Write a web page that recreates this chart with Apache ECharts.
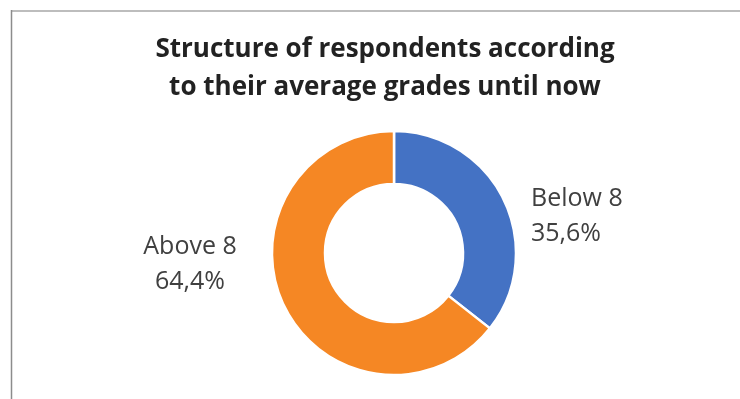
<!DOCTYPE html>
<html>
<head>
<meta charset="utf-8">
<script src="https://cdn.jsdelivr.net/npm/echarts@6/dist/echarts.min.js"></script>
<style>
  html, body { margin: 0; padding: 0; background: #fff; }
  #chart { width: 740px; height: 399px; }
</style>
</head>
<body>
<div id="chart"></div>
<script>
// Grade groups and their shares of respondents (%)
const categories = ['Below 8', 'Above 8'];
const shares = [35.6, 64.4];
const colors = ['#4472C4', '#F58724'];
const titleLines = ['Structure of respondents according', 'to their average grades until now'];

const chart = echarts.init(document.getElementById('chart'), null, { renderer: 'canvas' });

const fontFamily = '"Open Sans", "Noto Sans", sans-serif';
const labelPos = [
  { x: 531, y: 216, align: 'left' },
  { x: 190, y: 264, align: 'center' }
];

chart.setOption({
  animation: false,
  backgroundColor: '#ffffff',
  title: {
    text: titleLines.join('\n'),
    left: 380,
    top: 26,
    textAlign: 'center',
    textStyle: {
      fontFamily: fontFamily,
      fontWeight: 'bold',
      fontSize: 26,
      lineHeight: 38,
      color: '#222222'
    }
  },
  graphic: [
    {
      type: 'line',
      shape: { x1: 11, y1: 11, x2: 740, y2: 11 },
      style: { stroke: '#bdbdbd', lineWidth: 2 },
      silent: true
    },
    {
      type: 'line',
      shape: { x1: 11.5, y1: 10, x2: 11.5, y2: 399 },
      style: { stroke: '#8c8c8c', lineWidth: 1.5 },
      silent: true
    }
  ],
  series: [{
    type: 'pie',
    center: [394, 253],
    radius: [69, 122],
    startAngle: 90,
    clockwise: true,
    avoidLabelOverlap: false,
    itemStyle: { borderColor: '#ffffff', borderWidth: 2.5 },
    label: {
      show: true,
      formatter: p => p.name + '\n' + p.value.toFixed(1).replace('.', ',') + '%',
      fontFamily: fontFamily,
      fontSize: 25,
      lineHeight: 35,
      color: '#404040'
    },
    labelLine: { show: false },
    labelLayout: p => ({
      x: labelPos[p.dataIndex].x,
      y: labelPos[p.dataIndex].y,
      align: labelPos[p.dataIndex].align,
      verticalAlign: 'middle'
    }),
    data: categories.map((c, i) => ({
      name: c,
      value: shares[i],
      itemStyle: { color: colors[i] }
    }))
  }]
});
</script>
</body>
</html>
